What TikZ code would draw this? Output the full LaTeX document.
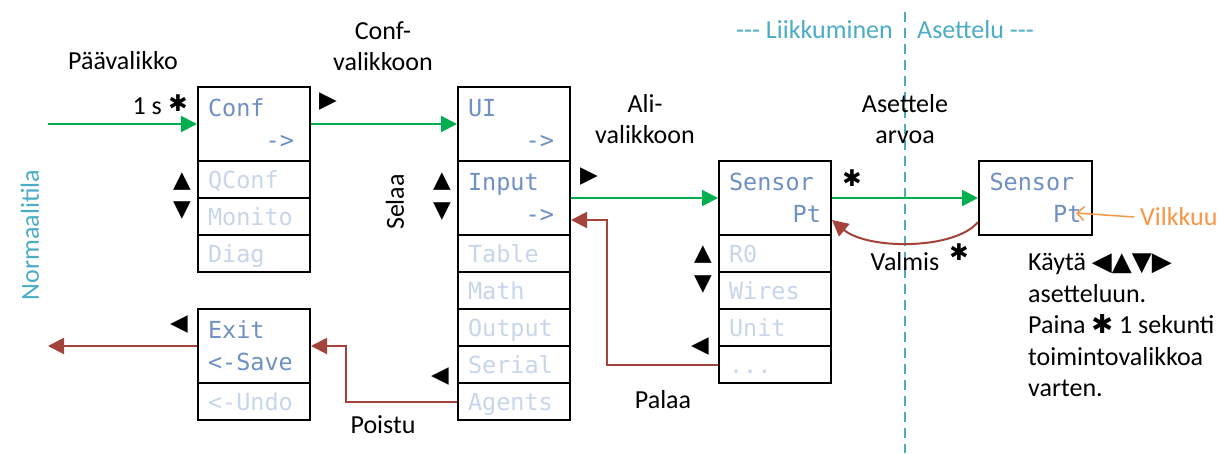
\documentclass[tikz,border=0pt]{standalone}
\usepackage{fontspec}
\setmainfont{Carlito}[Ligatures=TeXOff]
\newfontfamily\monofont{DejaVu Sans Mono}
\newfontfamily\symfont{DejaVu Sans}
\usetikzlibrary{arrows.meta,calc}
\definecolor{itemdark}{HTML}{6F90C4}
\definecolor{itemlight}{HTML}{C8D6EA}
\definecolor{aqua}{HTML}{4BACC6}
\definecolor{okgreen}{HTML}{00B050}
\definecolor{backred}{HTML}{A3433B}
\definecolor{blinkorange}{HTML}{F79646}
\begin{document}
\begin{tikzpicture}[x=1pt,y=-1pt,
  cell/.style={draw=black, line width=2pt, minimum width=112pt, inner xsep=10pt,
    inner ysep=0pt, text width=92pt, align=left,
    font=\monofont\fontsize{23.5}{32}\selectfont},
  one/.style={cell, minimum height=37pt, text height=17pt, text depth=0pt},
  two/.style={cell, minimum height=74pt, text=itemdark},
  dim/.style={one, text=itemlight},
  lbl/.style={font=\fontsize{26}{31.5}\selectfont, inner sep=0pt, align=center},
  sym/.style={font=\symfont\fontsize{23}{23}\selectfont, inner sep=0pt},
  go/.style={draw=okgreen, line width=2pt, -{Triangle[length=16pt,width=16pt]}},
  back/.style={draw=backred, line width=2pt, -{Triangle[length=16pt,width=16pt]}},
]
\fill[white] (0,0) rectangle (1221,453);
\useasboundingbox (0,0) rectangle (1221,453);

% main menu
\node[two] (conf) at (254,124) {Conf\\\hfill->\hspace*{6pt}};
\node[dim] (qconf) at (254,179.5) {QConf};
\node[dim] (monito) at (254,216.5) {Monito};
\node[dim] (diag) at (254,253.5) {Diag};

% exit menu
\node[two] (exit) at (254,346) {Exit\\<-Save};
\node[dim] (undo) at (254,401.5) {<-Undo};

% configuration menu
\node[two] (ui) at (514,124) {UI\\\hfill->\hspace*{6pt}};
\node[two] (input) at (514,198) {Input\\\hfill->\hspace*{6pt}};
\node[dim] (table) at (514,253.5) {Table};
\node[dim] (math) at (514,290.5) {Math};
\node[dim] (output) at (514,327.5) {Output};
\node[dim] (serial) at (514,364.5) {Serial};
\node[dim] (agents) at (514,401.5) {Agents};

% sub menu
\node[two] (sensor) at (775,198) {Sensor\\\hfill Pt};
\node[dim] (r0) at (775,253.5) {R0};
\node[dim] (wires) at (775,290.5) {Wires};
\node[dim] (unit) at (775,327.5) {Unit};
\node[dim] (dots) at (775,364.5) {...};

% editing view
\node[two, minimum width=113pt] (sensor2) at (1035.5,198) {Sensor\\\hfill Pt};

% mode divider
\coordinate (divtop) at (905,12);
\coordinate (divbot) at (905,453);
\draw[aqua, line width=2pt, dash pattern=on 10pt off 6pt] (divtop) -- (divbot);
\node[lbl, text=aqua, anchor=east] (movehead) at (893,30) {--- Liikkuminen};
\node[lbl, text=aqua, anchor=west] (sethead) at (917,30) {Asettelu ---};
\node[lbl, text=aqua, rotate=90] (normal) at (30,235) {Normaalitila};

% forward connectors
\coordinate (entry) at (48,124);
\draw[go] (entry) -- (conf.west);
\draw[go] (conf.east) -- (ui.west);
\draw[go] (input.east) -- (sensor.west);
\draw[go] (sensor.east) -- (sensor2.west);

% backward connectors
\coordinate (leave) at (48,346);
\draw[back] (exit.west) -- (leave);
\draw[back] (agents.west) -- ++(-111,0) |- (exit.east);
\draw[back] (dots.west) -- ++(-111,0) |- ([yshift=-22pt]input.east);
\draw[back] ([yshift=-24pt]sensor2.west) .. controls (955,250) and (868,250) .. ([yshift=-22pt]sensor.east);

% blinking cursor note
\node[lbl, text=blinkorange, anchor=west] (blink) at (1140,217) {Vilkkuu};
\coordinate (ptmark) at (1076,213);
\draw[blinkorange, line width=1.5pt, -{Straight Barb[length=7pt,width=14pt]}] ([xshift=-6pt]blink.west) -- (ptmark);

% labels
\node[lbl] (mainmenu) at (123,61) {Päävalikko};
\node[lbl, anchor=east] (hold) at (162,106) {1 s};
\node[sym] (holdstar) at (178,103) {✱};
\node[lbl] (toconf) at (383,46) {Conf-\\valikkoon};
\node[lbl] (tosub) at (645,119) {Ali-\\valikkoon};
\node[lbl] (setval) at (905,119) {Asettele\\arvoa};
\node[lbl, rotate=90] (browse) at (395,202) {Selaa};
\node[lbl] (done) at (905,262) {Valmis};
\node[sym] (donestar) at (959,252) {✱};
\node[sym] (setstar) at (852,178) {✱};
\node[lbl] (ret) at (663,400) {Palaa};
\node[lbl] (quit) at (383,425) {Poistu};
\node[lbl, anchor=west, align=left] (help) at (1028,325)
  {Käytä {\symfont ◀▲▼▶}\\asetteluun.\\Paina {\symfont ✱} 1 sekunti\\toimintovalikkoa\\varten.};

% key hints
\node[sym] (confnext) at (328,102) {▶};
\node[sym] (confup) at (182,182) {▲};
\node[sym] (confdown) at (182,211) {▼};
\node[sym] (exitleft) at (179,325) {◀};
\node[sym] (inputup) at (442,182) {▲};
\node[sym] (inputdown) at (442,212) {▼};
\node[sym] (agentsleft) at (440,377) {◀};
\node[sym] (inputnext) at (589,177) {▶};
\node[sym] (r0up) at (703,255) {▲};
\node[sym] (r0down) at (703,285) {▼};
\node[sym] (dotsleft) at (700,347) {◀};
\end{tikzpicture}
\end{document}
